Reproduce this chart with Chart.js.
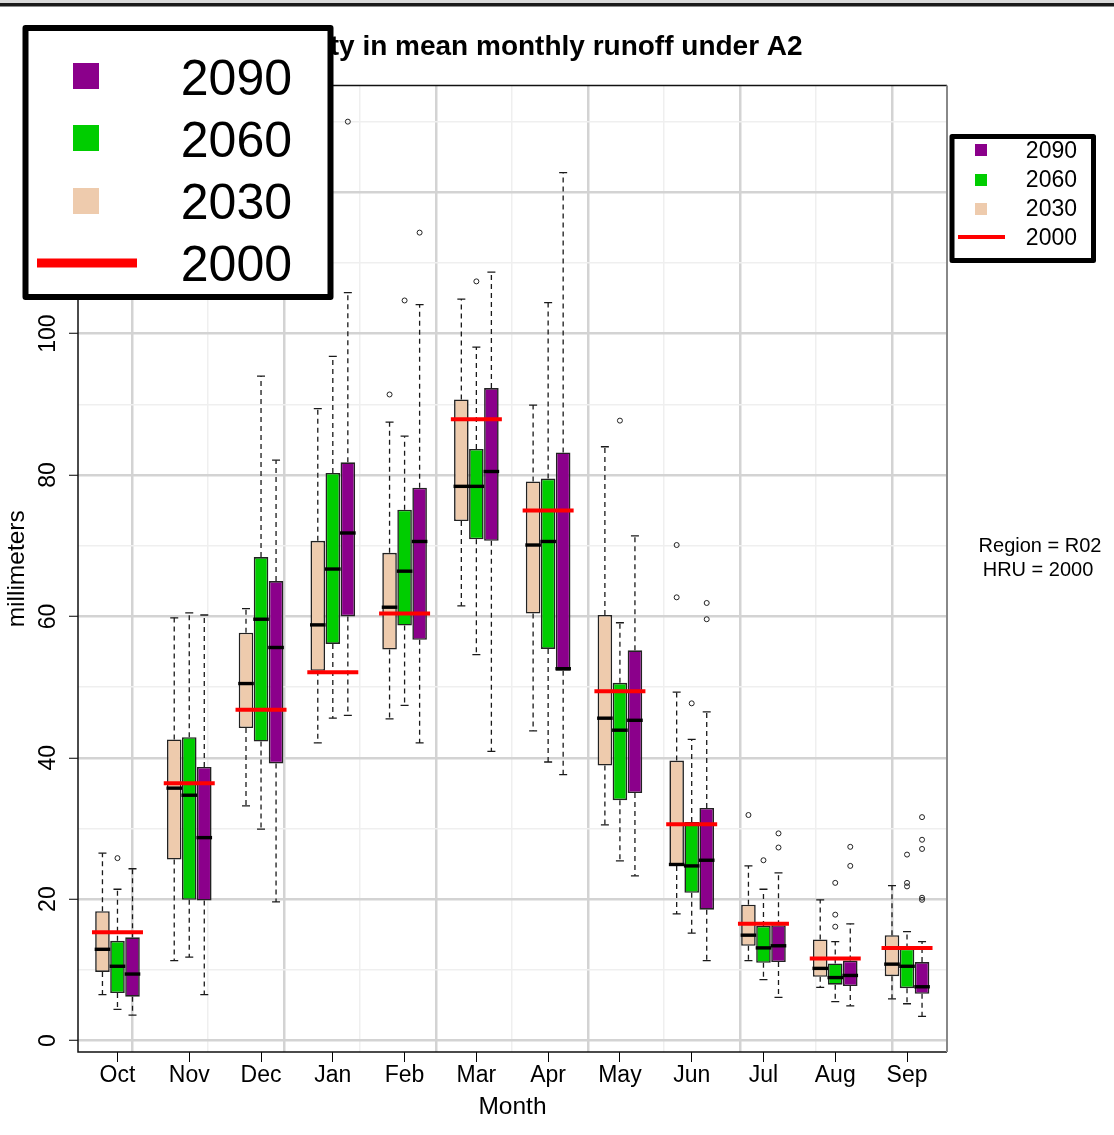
<!DOCTYPE html>
<html>
<head>
<meta charset="utf-8">
<script src="https://cdn.jsdelivr.net/npm/chart.js@4.4.1/dist/chart.umd.min.js"></script>
<style>
  html, body { margin: 0; padding: 0; background: #fff; overflow: hidden; }
  #wrap { width: 1114px; height: 1135px; position: relative; }
</style>
</head>
<body>
<div id="wrap"><canvas id="chart"></canvas></div>
<script>
// Month categories (water year order)
const months = ['Oct', 'Nov', 'Dec', 'Jan', 'Feb', 'Mar', 'Apr', 'May', 'Jun', 'Jul', 'Aug', 'Sep'];
const yLabels = [0, 20, 40, 60, 80, 100];

// 2030 box stats (whisker low, Q1, median, Q3, whisker high)
const low2030  = [6.5, 11.3, 33.2, 42.1, 45.5, 61.5, 43.8, 30.5, 17.9, 11.3, 7.5, 5.9];
const q1_2030  = [9.7, 25.6, 44.2, 52.3, 55.3, 73.5, 60.4, 38.9, 24.7, 13.4, 9.0, 9.1];
const med2030  = [12.9, 35.7, 50.5, 58.8, 61.3, 78.4, 70.1, 45.6, 24.9, 14.9, 10.2, 10.8];
const q3_2030  = [18.3, 42.6, 57.7, 70.7, 69.0, 90.7, 79.1, 60.2, 39.6, 19.2, 14.3, 14.9];
const high2030 = [26.5, 59.8, 61.1, 89.4, 87.5, 104.9, 89.9, 84.0, 49.3, 24.7, 19.9, 21.9];
const out2030  = [[4, 91.4], [8, 70.1], [8, 62.7], [9, 31.9]];

// 2060
const low2060  = [4.4, 11.8, 29.9, 45.6, 47.4, 54.6, 39.4, 25.4, 15.2, 8.6, 5.5, 5.2];
const q1_2060  = [6.7, 19.9, 42.3, 56.1, 58.7, 70.9, 55.4, 34.0, 20.9, 11.0, 7.9, 7.4];
const med2060  = [10.5, 34.7, 59.6, 66.7, 66.4, 78.4, 70.6, 43.9, 24.7, 13.1, 8.9, 10.5];
const q3_2060  = [14.1, 42.9, 68.4, 80.3, 75.1, 83.7, 79.5, 50.6, 30.9, 16.2, 10.9, 13.0];
const high2060 = [21.4, 60.5, 94.0, 96.8, 85.5, 98.1, 104.4, 59.1, 42.6, 21.4, 14.0, 15.4];
const out2060  = [[0, 25.8], [4, 104.7], [5, 107.4], [7, 87.7], [8, 47.7], [9, 25.5],
                  [10, 22.3], [10, 17.8], [10, 16.1], [11, 26.3], [11, 22.3], [11, 21.8]];

// 2090
const low2090  = [3.6, 6.5, 19.6, 46.0, 42.1, 40.9, 37.6, 23.3, 11.3, 6.1, 4.9, 3.4];
const q1_2090  = [6.2, 19.8, 39.2, 60.0, 56.7, 70.7, 52.3, 35.0, 18.5, 11.1, 7.7, 6.6];
const med2090  = [9.4, 28.7, 55.6, 71.8, 70.6, 80.5, 52.6, 45.3, 25.5, 13.4, 9.2, 7.6];
const q3_2090  = [14.6, 38.7, 65.0, 81.8, 78.2, 92.3, 83.2, 55.2, 32.9, 16.3, 11.3, 11.1];
const high2090 = [24.3, 60.2, 82.1, 105.8, 104.1, 108.7, 122.8, 71.4, 46.5, 23.7, 16.5, 14.0];
const out2090  = [[3, 130.0], [4, 114.3], [8, 61.9], [8, 59.6], [9, 29.3], [9, 27.3],
                  [10, 27.4], [10, 24.7], [11, 31.6], [11, 28.4], [11, 27.1], [11, 20.2], [11, 19.9]];

// 2000 baseline (red bars)
const base2000 = [15.3, 36.4, 46.8, 52.1, 60.4, 87.9, 75.0, 49.4, 30.6, 16.5, 11.6, 13.1];

const FONT = "'Liberation Sans', Arial, sans-serif";

const series = [
  { label: '2030', color: '#EECBAD', low: low2030, q1: q1_2030, med: med2030, q3: q3_2030, high: high2030, out: out2030 },
  { label: '2060', color: '#00CD00', low: low2060, q1: q1_2060, med: med2060, q3: q3_2060, high: high2060, out: out2060 },
  { label: '2090', color: '#8B008B', low: low2090, q1: q1_2090, med: med2090, q3: q3_2090, high: high2090, out: out2090 }
];

// whiskers, medians, outliers and the 2000 lines, placed with the chart scales
const boxExtras = {
  id: 'boxExtras',
  afterDatasetsDraw(chart) {
    const ctx = chart.ctx;
    const y = chart.scales.y;
    const x = chart.scales.x;
    ctx.save();
    series.forEach((s, d) => {
      const meta = chart.getDatasetMeta(d);
      meta.data.forEach((bar, i) => {
        const cx = bar.x;
        ctx.strokeStyle = '#1a1a1a';
        ctx.lineWidth = 1.3;
        ctx.setLineDash([5, 4]);
        ctx.beginPath();
        ctx.moveTo(cx, y.getPixelForValue(s.q3[i]));
        ctx.lineTo(cx, y.getPixelForValue(s.high[i]));
        ctx.moveTo(cx, y.getPixelForValue(s.q1[i]));
        ctx.lineTo(cx, y.getPixelForValue(s.low[i]));
        ctx.stroke();
        ctx.setLineDash([]);
        ctx.beginPath();
        ctx.moveTo(cx - 4, y.getPixelForValue(s.high[i]));
        ctx.lineTo(cx + 4, y.getPixelForValue(s.high[i]));
        ctx.moveTo(cx - 4, y.getPixelForValue(s.low[i]));
        ctx.lineTo(cx + 4, y.getPixelForValue(s.low[i]));
        ctx.stroke();
        // median
        ctx.fillStyle = '#000';
        ctx.fillRect(cx - bar.width / 2 - 0.5, y.getPixelForValue(s.med[i]) - 1.7, bar.width + 1, 3.4);
      });
      // outliers
      ctx.strokeStyle = '#222';
      ctx.lineWidth = 1;
      s.out.forEach(([i, v]) => {
        ctx.beginPath();
        ctx.arc(meta.data[i].x, y.getPixelForValue(v), 2.5, 0, Math.PI * 2);
        ctx.stroke();
      });
    });
    // 2000 red lines
    ctx.strokeStyle = '#FF0000';
    ctx.lineWidth = 4;
    base2000.forEach((v, i) => {
      const cx = x.getPixelForValue(i + 1);
      const py = y.getPixelForValue(v);
      ctx.beginPath();
      ctx.moveTo(cx - 25.5, py);
      ctx.lineTo(cx + 25.5, py);
      ctx.stroke();
    });
    ctx.restore();
  },
  afterDraw(chart) {
    const ctx = chart.ctx;
    const a = chart.chartArea;
    const y = chart.scales.y;
    ctx.save();
    // plot frame
    ctx.strokeStyle = '#111';
    ctx.lineWidth = 1.5;
    ctx.beginPath();
    ctx.moveTo(a.right, a.top); ctx.lineTo(a.left, a.top);
    ctx.lineTo(a.left, a.bottom); ctx.lineTo(a.right, a.bottom);
    ctx.stroke();
    ctx.strokeStyle = '#888';
    ctx.lineWidth = 2;
    ctx.beginPath();
    ctx.moveTo(a.right, a.top); ctx.lineTo(a.right, a.bottom);
    ctx.stroke();

    // rotated y tick labels
    ctx.fillStyle = '#000';
    ctx.font = '23px ' + FONT;
    ctx.textAlign = 'center';
    ctx.textBaseline = 'middle';
    yLabels.forEach(v => {
      ctx.save();
      ctx.translate(49, y.getPixelForValue(v));
      ctx.rotate(-Math.PI / 2);
      ctx.fillText(String(v), 0, 0);
      ctx.restore();
    });

    // region note
    ctx.font = '20px ' + FONT;
    ctx.fillText('Region = R02', 1040, 546);
    ctx.fillText('HRU = 2000', 1038, 570);

    // window edge line at the top
    ctx.fillStyle = '#d9d9d9';
    ctx.fillRect(0, 0, 1114, 3);
    ctx.fillStyle = '#1a1a1a';
    ctx.fillRect(0, 3, 1114, 3.5);

    // legends: small one at right, enlarged copy at top left
    drawLegend(ctx, { left: 952, top: 136.5, w: 141.5, h: 124, border: 5, sq: 12, sqX: 981,
      rows: [150, 180, 209], lineY: 237, lineX: [958, 1005], lineW: 4,
      textX: 1077, textY: [152, 181, 210, 239], font: 23 });
    drawLegend(ctx, { left: 25.5, top: 28, w: 305, h: 269, border: 6, sq: 26, sqX: 86,
      rows: [76, 138, 201], lineY: 263, lineX: [37, 137], lineW: 9,
      textX: 292, textY: [81, 143, 205, 267], font: 50 });
    ctx.restore();
  }
};

function drawLegend(ctx, L) {
  ctx.fillStyle = '#fff';
  ctx.fillRect(L.left, L.top, L.w, L.h);
  ctx.strokeStyle = '#000';
  ctx.lineWidth = L.border;
  ctx.lineJoin = 'round';
  ctx.strokeRect(L.left, L.top, L.w, L.h);
  const items = series.slice().reverse();
  items.forEach((s, k) => {
    ctx.fillStyle = s.color;
    ctx.fillRect(L.sqX - L.sq / 2, L.rows[k] - L.sq / 2, L.sq, L.sq);
  });
  ctx.strokeStyle = '#FF0000';
  ctx.lineWidth = L.lineW;
  ctx.beginPath();
  ctx.moveTo(L.lineX[0], L.lineY);
  ctx.lineTo(L.lineX[1], L.lineY);
  ctx.stroke();
  ctx.fillStyle = '#000';
  ctx.font = L.font + 'px ' + FONT;
  ctx.textAlign = 'right';
  ctx.textBaseline = 'middle';
  items.map(s => s.label).concat(['2000']).forEach((t, k) => {
    ctx.fillText(t, L.textX, L.textY[k]);
  });
}

const whiteBg = {
  id: 'whiteBg',
  beforeDraw(chart) {
    const ctx = chart.ctx;
    ctx.save();
    ctx.fillStyle = '#fff';
    ctx.fillRect(0, 0, chart.width, chart.height);
    ctx.restore();
  }
};

const ctx = document.getElementById('chart').getContext('2d');
const myChart = new Chart(ctx, {
  type: 'bar',
  data: {
    datasets: series.map(s => ({
      label: s.label,
      data: months.map((m, i) => ({ x: i + 1, y: [s.q1[i], s.q3[i]] })),
      backgroundColor: s.color,
      borderColor: '#222',
      borderWidth: 1.6,
      borderSkipped: false,
      categoryPercentage: 0.628,
      barPercentage: 0.97,
      xAxisID: 'x',
      yAxisID: 'y'
    }))
  },
  options: {
    responsive: true,
    maintainAspectRatio: false,
    animation: false,
    devicePixelRatio: 1,
    layout: { padding: { left: 0, right: 167, top: 0, bottom: 0 } },
    plugins: {
      legend: { display: false },
      tooltip: { enabled: false },
      title: {
        display: true,
        text: 'Variability in mean monthly runoff under A2',
        fullSize: false,
        color: '#000',
        font: { family: FONT, size: 28, weight: 'bold' },
        padding: { top: 30, bottom: 22 }
      }
    },
    scales: {
      x: {
        type: 'linear',
        position: 'bottom',
        offset: false,
        min: 0.45,
        max: 12.557,
        afterBuildTicks: s => { s.ticks = months.map((m, i) => ({ value: i + 1 })); },
        afterFit: s => { s.height = 83; },
        ticks: {
          autoSkip: false,
          maxRotation: 0,
          padding: 0,
          color: '#000',
          font: { family: FONT, size: 23 },
          callback: v => months[v - 1]
        },
        grid: { offset: false, drawOnChartArea: false, tickLength: 10, tickColor: '#000', tickWidth: 1 },
        border: { display: false },
        title: {
          display: true,
          text: 'Month',
          color: '#000',
          font: { family: FONT, size: 24.5 },
          padding: { top: 0, bottom: 13 }
        }
      },
      // background vertical grid, not tied to the month positions
      xg: {
        type: 'linear',
        position: 'top',
        offset: false,
        min: -0.71,
        max: 10.724,
        afterBuildTicks: s => { s.ticks = [0, 1, 2, 3, 4, 5, 6, 7, 8, 9, 10].map(v => ({ value: v })); },
        afterFit: s => { s.height = 0; },
        ticks: { display: false },
        grid: {
          offset: false,
          drawTicks: false,
          color: c => (c.tick && c.tick.value % 2 === 0) ? '#d3d3d3' : '#efefef',
          lineWidth: c => (c.tick && c.tick.value % 2 === 0) ? 2.5 : 1.5
        },
        border: { display: false }
      },
      y: {
        type: 'linear',
        min: -1.63,
        max: 135.1,
        afterBuildTicks: s => { s.ticks = [0, 10, 20, 30, 40, 50, 60, 70, 80, 90, 100, 110, 120, 130].map(v => ({ value: v })); },
        afterFit: s => { s.width = 78; },
        ticks: { display: false },
        grid: {
          tickLength: 9,
          color: c => (c.tick && c.tick.value % 20 === 0) ? '#d3d3d3' : '#efefef',
          lineWidth: c => (c.tick && c.tick.value % 20 === 0) ? 2.5 : 1.5,
          tickColor: c => (c.tick && c.tick.value % 20 === 0 && c.tick.value <= 100) ? '#000' : 'rgba(0,0,0,0)',
          tickWidth: 1
        },
        border: { display: false },
        title: {
          display: true,
          text: 'millimeters',
          color: '#000',
          font: { family: FONT, size: 24.5 },
          padding: { top: 3, bottom: 0 }
        }
      }
    }
  },
  plugins: [whiteBg, boxExtras]
});
</script>
</body>
</html>
